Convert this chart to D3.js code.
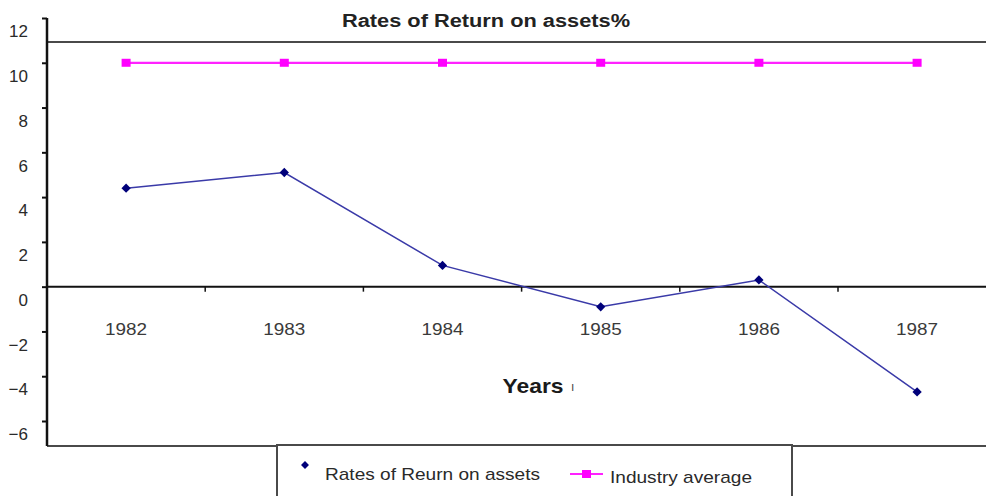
<!DOCTYPE html>
<html>
<head>
<meta charset="utf-8">
<script src="https://cdn.jsdelivr.net/npm/d3@7"></script>
<style>
  body { margin: 0; background: #fff; }
  svg { display: block; font-family: Arial, "Liberation Sans", sans-serif; }
</style>
</head>
<body>
<div id="chart"></div>
<script>
// data
const years = ["1982", "1983", "1984", "1985", "1986", "1987"];
const returnOnAssets = [4.4, 5.1, 0.95, -0.9, 0.3, -4.7];
const industryAverage = [10, 10, 10, 10, 10, 10];
const yTicks = [-6, -4, -2, 0, 2, 4, 6, 8, 10, 12];

const width = 986, height = 496;
const left = 47, plotTop = 42, plotBottom = 446;

const svg = d3.select("#chart").append("svg")
  .attr("width", width)
  .attr("height", height);

const x = d3.scaleBand()
  .domain(years)
  .range([left, left + 6 * 158.2]);

const y = d3.scaleLinear()
  .domain([-6, 12])
  .range([421, 18]);

const frame = "#4a4a4a";

// the scanned chart is a bit stretched sideways, so widen text to match
const stretch = (sel, w) => sel.attr("textLength", w).attr("lengthAdjust", "spacingAndGlyphs");

// title
svg.append("text")
  .attr("x", 486).attr("y", 27)
  .attr("text-anchor", "middle")
  .style("font-size", "18px").style("font-weight", "bold")
  .attr("fill", "#222")
  .text("Rates of Return on assets%")
  .call(stretch, 288);

// plot frame top + bottom
svg.append("line")
  .attr("x1", left).attr("x2", width)
  .attr("y1", plotTop).attr("y2", plotTop)
  .attr("stroke", frame).attr("stroke-width", 2);
svg.append("line")
  .attr("x1", left).attr("x2", width)
  .attr("y1", plotBottom).attr("y2", plotBottom)
  .attr("stroke", frame).attr("stroke-width", 2);

// y axis
const yAxis = svg.append("g")
  .attr("transform", `translate(${left},0)`)
  .call(d3.axisLeft(y).tickValues(yTicks).tickSize(5).tickSizeOuter(0).tickPadding(14));
yAxis.select(".domain").remove();
yAxis.append("line")
  .attr("x1", 0).attr("x2", 0)
  .attr("y1", y(12)).attr("y2", plotBottom)
  .attr("stroke", "#111").attr("stroke-width", 2.5);
yAxis.selectAll(".tick line").attr("stroke", "#111").attr("stroke-width", 2);
yAxis.selectAll(".tick text")
  .attr("dy", "1.1em")
  .attr("fill", "#2a2a2a")
  .style("font-size", "17px")
  .style("font-family", "Arial, 'Liberation Sans', sans-serif");

// x axis on the zero line
const xAxis = svg.append("g")
  .attr("transform", `translate(0,${y(0)})`);
xAxis.append("line")
  .attr("x1", left).attr("x2", width)
  .attr("stroke", "#111").attr("stroke-width", 2);
xAxis.selectAll(".tk")
  .data(years.slice(1))
  .join("line")
  .attr("x1", d => x(d)).attr("x2", d => x(d))
  .attr("y1", 0).attr("y2", 5)
  .attr("stroke", "#111").attr("stroke-width", 1.5);
xAxis.selectAll(".yr")
  .data(years)
  .join("text")
  .attr("x", d => x(d) + x.bandwidth() / 2)
  .attr("y", 48)
  .attr("text-anchor", "middle")
  .attr("fill", "#3a3a3a")
  .style("font-size", "17px")
  .text(d => d)
  .call(stretch, 42);

// x axis title
svg.append("text")
  .attr("x", 533).attr("y", 393)
  .attr("text-anchor", "middle")
  .style("font-size", "21px").style("font-weight", "bold")
  .attr("fill", "#1a1a1a")
  .text("Years")
  .call(stretch, 61);
svg.append("text")
  .attr("x", 571).attr("y", 391)
  .style("font-size", "12px")
  .attr("fill", "#444")
  .text("ı");

const cx = d => x(d) + x.bandwidth() / 2;

// industry average line
svg.append("path")
  .datum(industryAverage)
  .attr("fill", "none")
  .attr("stroke", "#ff22ff")
  .attr("stroke-width", 2.2)
  .attr("d", d3.line().x((d, i) => cx(years[i])).y(d => y(d)));
svg.selectAll(".sq")
  .data(industryAverage)
  .join("rect")
  .attr("x", (d, i) => cx(years[i]) - 4.5)
  .attr("y", d => y(d) - 4)
  .attr("width", 9).attr("height", 8)
  .attr("fill", "#ff00ff");

// return on assets line
svg.append("path")
  .datum(returnOnAssets)
  .attr("fill", "none")
  .attr("stroke", "#3a3aa8")
  .attr("stroke-width", 1.5)
  .attr("d", d3.line().x((d, i) => cx(years[i])).y(d => y(d)));
svg.selectAll(".dm")
  .data(returnOnAssets)
  .join("path")
  .attr("transform", (d, i) => `translate(${cx(years[i])},${y(d)})`)
  .attr("d", d3.symbol(d3.symbolDiamond2, 55))
  .attr("fill", "#00007a");

// legend
const lg = svg.append("g");
lg.append("rect")
  .attr("x", 277).attr("y", 445)
  .attr("width", 515).attr("height", 70)
  .attr("fill", "#fff")
  .attr("stroke", frame).attr("stroke-width", 2);
lg.append("path")
  .attr("transform", "translate(305,465)")
  .attr("d", d3.symbol(d3.symbolDiamond2, 40))
  .attr("fill", "#00007a");
lg.append("text")
  .attr("x", 325).attr("y", 480)
  .attr("fill", "#2a2a2a")
  .style("font-size", "17px")
  .text("Rates of Reurn on assets")
  .call(stretch, 215);
lg.append("line")
  .attr("x1", 570).attr("x2", 603)
  .attr("y1", 474).attr("y2", 474)
  .attr("stroke", "#ff22ff").attr("stroke-width", 2.2);
lg.append("rect")
  .attr("x", 582).attr("y", 470)
  .attr("width", 9).attr("height", 8)
  .attr("fill", "#ff00ff");
lg.append("text")
  .attr("x", 610).attr("y", 483)
  .attr("fill", "#2a2a2a")
  .style("font-size", "17px")
  .text("Industry average")
  .call(stretch, 142);
</script>
</body>
</html>
